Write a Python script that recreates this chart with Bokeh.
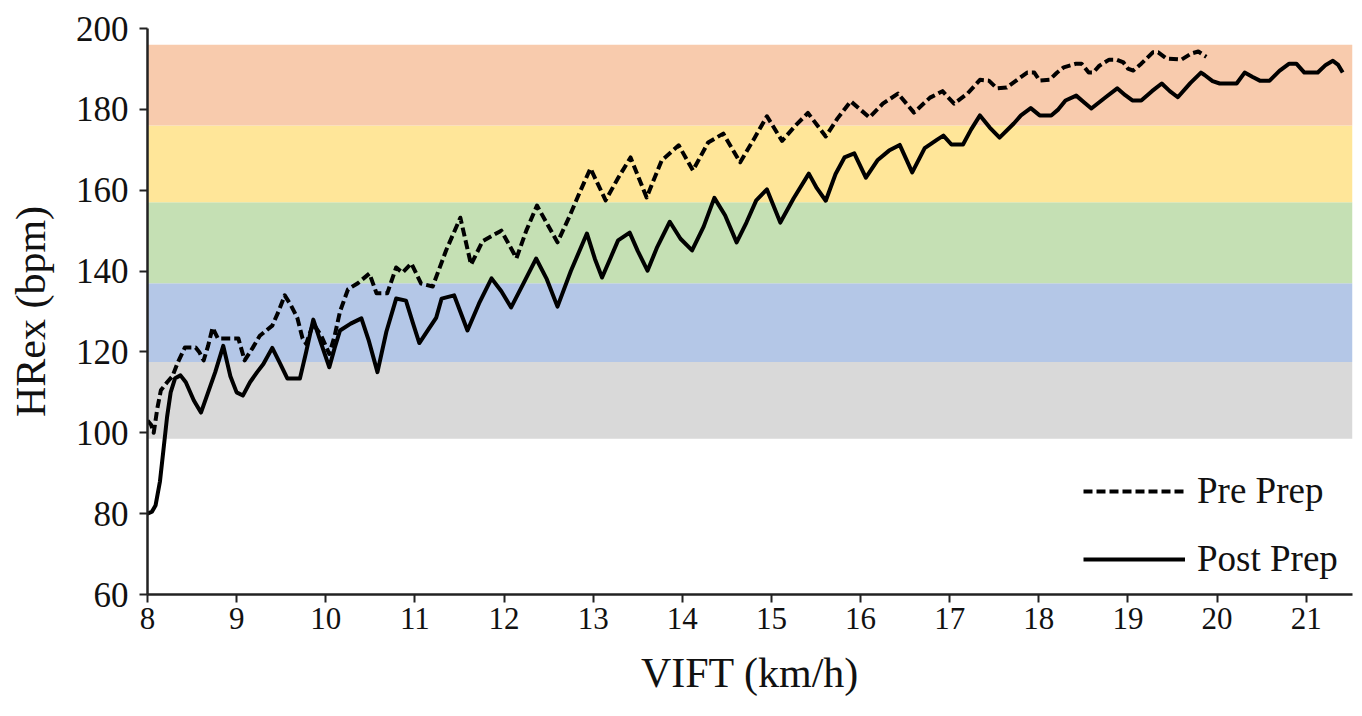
from bokeh.plotting import figure
from bokeh.models import Range1d, FixedTicker, Legend, LegendItem
from bokeh.embed import file_html
from bokeh.resources import INLINE

# ---- data ----
x_ticks = [8, 9, 10, 11, 12, 13, 14, 15, 16, 17, 18, 19, 20, 21]
y_ticks = [60, 80, 100, 120, 140, 160, 180, 200]

band_bottom = [98.5, 117.5, 137, 157, 176]
band_top = [117.5, 137, 157, 176, 196]
band_colors = ["#D9D9D9", "#B4C7E7", "#C5E0B4", "#FFE699", "#F8CBAD"]

pre_x = [8.00, 8.04, 8.07, 8.11, 8.15, 8.22, 8.28, 8.34, 8.42, 8.54, 8.58, 8.63, 8.68, 8.73,
         8.79, 9.02, 9.09, 9.18, 9.26, 9.40, 9.47, 9.54, 9.61, 9.68, 9.74, 9.78, 9.86, 9.95,
         10.04, 10.10, 10.16, 10.25, 10.36, 10.49, 10.57, 10.69, 10.79, 10.86, 10.96, 11.07,
         11.20, 11.35, 11.51, 11.63, 11.76, 11.97, 12.14, 12.25, 12.37, 12.60, 12.73, 12.85,
         12.97, 13.14, 13.28, 13.42, 13.60, 13.77, 13.96, 14.12, 14.29, 14.46, 14.65, 14.80,
         14.95, 15.12, 15.27, 15.41, 15.61, 15.74, 15.89, 16.10, 16.25, 16.42, 16.60, 16.78,
         16.92, 17.05, 17.20, 17.34, 17.44, 17.53, 17.64, 17.87, 17.95, 18.01, 18.12, 18.20,
         18.28, 18.42, 18.48, 18.56, 18.61, 18.68, 18.79, 18.87, 18.95, 19.00, 19.06, 19.15,
         19.28, 19.34, 19.43, 19.60, 19.71, 19.79, 19.88]
pre_y = [103, 102, 100, 106, 110.5, 112.5, 114, 117.4, 121.1, 121.1, 120, 117.9, 121.5, 126,
         123.3, 123.3, 117.9, 121, 124, 126.5, 130, 134, 131.5, 128.5, 123.3, 122, 127, 124,
         119.5, 124, 130, 135.5, 137, 139.4, 134.5, 134.5, 140.9, 139.6, 141.9, 136.9,
         136.2, 145.1, 153.2, 141.6, 147.4, 150, 143.2, 150, 156.2, 147.1, 153.3, 159.5,
         165.4, 157.5, 163, 168.1, 158.2, 167.4, 171.1, 164.9, 171.8, 174, 166.9, 172.5,
         178.3, 172.2, 176, 179.1, 173.3, 177.7, 182, 178, 181.4, 183.9, 179.2, 182.9,
         184.5, 181.4, 183.9, 187.3, 187.1, 185.2, 185.4, 189.1, 189.1, 187.1, 187.3, 189,
         190.4, 191.3, 191.3, 189.1, 189.1, 190.8, 192.3, 192.3, 191.6, 190.1, 189.6, 191.3,
         194.1, 194.1, 192.6, 192.3, 193.8, 194.3, 193]

post_x = [8.00, 8.05, 8.09, 8.14, 8.18, 8.22, 8.26, 8.31, 8.37, 8.43, 8.52, 8.60, 8.68, 8.76,
          8.85, 8.93, 9.00, 9.07, 9.15, 9.23, 9.30, 9.40, 9.48, 9.57, 9.71, 9.78, 9.86, 9.95,
          10.04, 10.10, 10.16, 10.28, 10.40, 10.48, 10.58, 10.68, 10.79, 10.90, 10.98, 11.05,
          11.15, 11.24, 11.30, 11.44, 11.59, 11.72, 11.86, 11.97, 12.08, 12.22, 12.36, 12.48,
          12.60, 12.75, 12.93, 13.02, 13.10, 13.20, 13.28, 13.41, 13.50, 13.61, 13.72, 13.86,
          13.98, 14.11, 14.24, 14.36, 14.48, 14.61, 14.72, 14.83, 14.95, 15.10, 15.25, 15.42,
          15.51, 15.61, 15.72, 15.82, 15.93, 16.06, 16.19, 16.32, 16.44, 16.58, 16.72, 16.86,
          16.93, 17.02, 17.15, 17.24, 17.34, 17.45, 17.56, 17.72, 17.80, 17.91, 18.01, 18.14,
          18.22, 18.30, 18.42, 18.52, 18.59, 18.75, 18.88, 18.97, 19.05, 19.15, 19.27, 19.38,
          19.47, 19.56, 19.70, 19.82, 19.86, 19.95, 20.03, 20.22, 20.31, 20.40, 20.48, 20.59,
          20.70, 20.81, 20.89, 20.98, 21.13, 21.22, 21.30, 21.36, 21.41]
post_y = [80, 80.5, 82, 88, 96, 104, 110, 113.5, 114.2, 112.5, 108, 105, 110, 115,
          121.5, 114, 110, 109.2, 112.5, 115, 117, 121, 117.5, 113.4, 113.4, 120, 128, 122,
          116.2, 121, 125.3, 127, 128.3, 123, 115, 125, 133.2, 132.7, 127, 122.2,
          125.5, 128.5, 133.2, 134, 125.3, 132, 138.2, 135, 131, 137, 143.1, 138,
          131.2, 140, 149.3, 143, 138.4, 143.5, 147.6, 149.5, 145, 140.1, 146, 152.2,
          148, 145.1, 151, 158.1, 153.8, 147.1, 152, 157.5, 160.2, 152, 158, 164.1,
          160.5, 157.4, 164, 168.1, 169.1, 163.1, 167.4, 169.8, 171.2, 164.4, 170.4, 172.5,
          173.5, 171.3, 171.3, 175, 178.5, 175.5, 173, 176.5, 178.5, 180.3, 178.5, 178.5,
          180, 182.2, 183.4, 181.5, 180.2, 183, 185.2, 183.5, 182.2, 182.2, 184.5, 186.4,
          184.5, 183, 186.5, 189.1, 188.5, 187, 186.4, 186.4, 189.1, 188, 187.1, 187.1,
          189.5, 191.3, 191.3, 189.1, 189.1, 191, 192, 191, 189.1]

X_START, X_END = 8, 21.52
FONT = "Liberation Serif"

p = figure(width=1353, height=700, output_backend="svg", toolbar_location=None,
           x_range=Range1d(X_START, X_END), y_range=Range1d(60, 200),
           min_border_left=147, min_border_right=1, min_border_top=28, min_border_bottom=106)

p.quad(left=X_START, right=X_END, bottom=band_bottom, top=band_top,
       fill_color=band_colors, line_color=None)

r_pre = p.line(pre_x, pre_y, line_color="black", line_width=4, line_dash="9 4",
               line_join="round")
r_post = p.line(post_x, post_y, line_color="black", line_width=4, line_join="round")

p.grid.visible = False
p.outline_line_color = None
p.background_fill_color = "white"

for ax in (p.xaxis[0], p.yaxis[0]):
    ax.axis_line_color = "#222222"
    ax.axis_line_width = 2.5
    ax.major_tick_line_color = "#222222"
    ax.major_tick_line_width = 2
    ax.major_tick_out = 8
    ax.major_tick_in = 0
    ax.minor_tick_line_color = None
    ax.major_label_text_font = FONT
    ax.major_label_text_color = "#111111"
    ax.axis_label_text_font = FONT
    ax.axis_label_text_font_style = "normal"
    ax.axis_label_text_color = "#111111"
    ax.axis_label_text_font_size = "42px"

p.xaxis[0].ticker = FixedTicker(ticks=x_ticks)
p.yaxis[0].ticker = FixedTicker(ticks=y_ticks)
p.xaxis[0].axis_label = "VIFT (km/h)"
p.yaxis[0].axis_label = "HRex (bpm)"
p.xaxis[0].major_label_text_font_size = "31px"
p.yaxis[0].major_label_text_font_size = "35px"
p.xaxis[0].major_label_standoff = 5
p.yaxis[0].major_label_standoff = 11
p.xaxis[0].axis_label_standoff = 18
p.yaxis[0].axis_label_standoff = 19

legend = Legend(items=[LegendItem(label="Pre Prep", renderers=[r_pre]),
                       LegendItem(label="Post Prep", renderers=[r_post])],
                location=(936, 14), border_line_color=None, background_fill_alpha=0,
                padding=0, margin=0, glyph_width=102, glyph_height=40, label_height=40,
                label_standoff=12, spacing=25, label_text_font=FONT,
                label_text_font_size="37px", label_text_color="#111111")
p.add_layout(legend)

open("out.html", "w").write(file_html(p, INLINE))
